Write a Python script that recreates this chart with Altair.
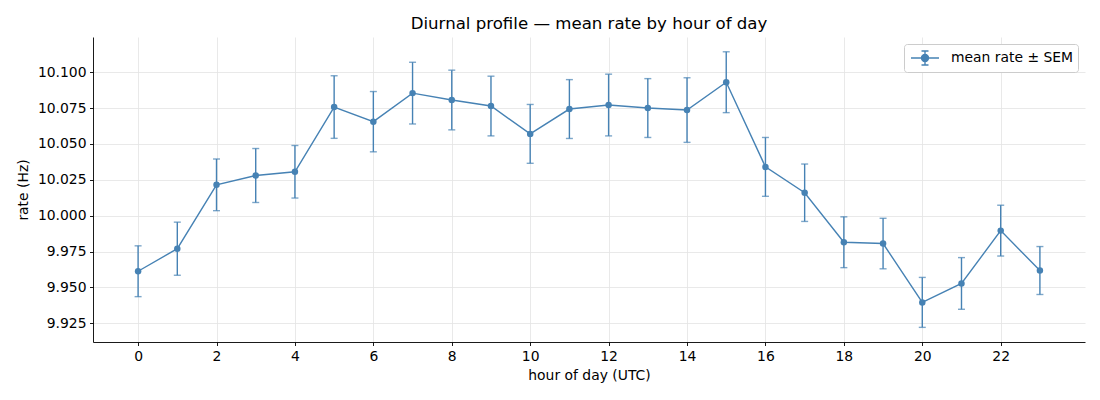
import altair as alt
import pandas as pd

hours = list(range(24))
mean_rate = [9.9613, 9.9770, 10.0215, 10.0280, 10.0306, 10.0757, 10.0655, 10.0854,
             10.0806, 10.0764, 10.0570, 10.0743, 10.0771, 10.0750, 10.0736, 10.0930,
             10.0340, 10.0160, 9.9815, 9.9806, 9.9396, 9.9528, 9.9896, 9.9618]
sem = [0.0177, 0.0185, 0.0180, 0.0188, 0.0183, 0.0218, 0.0210, 0.0215,
       0.0208, 0.0208, 0.0205, 0.0205, 0.0215, 0.0205, 0.0225, 0.0212,
       0.0205, 0.0200, 0.0177, 0.0176, 0.0174, 0.0180, 0.0177, 0.0167]
series_name = "mean rate ± SEM"
x_ticks = list(range(0, 23, 2))
y_ticks = [9.925, 9.950, 9.975, 10.000, 10.025, 10.050, 10.075, 10.100]

df = pd.DataFrame({"hour": hours, "mean": mean_rate, "sem": sem})
df["series"] = series_name

COLOR = "#4682b4"
FONT = "DejaVu Sans"
FS = 13.9

x_enc = alt.X("hour:Q", scale=alt.Scale(domain=[-1.15, 24.15], nice=False, zero=False),
              axis=alt.Axis(values=x_ticks, title="hour of day (UTC)", format="d"))
y_scale = alt.Scale(domain=[9.912, 10.1245], nice=False, zero=False)
y_axis = alt.Axis(values=y_ticks, format=".3f", title="rate (Hz)")

base = alt.Chart(df).transform_calculate(
    lo="datum.mean - datum.sem", hi="datum.mean + datum.sem"
)

bars = base.mark_rule(color=COLOR, strokeWidth=1.4).encode(
    x=x_enc,
    y=alt.Y("lo:Q", scale=y_scale, axis=y_axis),
    y2="hi:Q",
)
cap_lo = base.mark_tick(color=COLOR, orient="horizontal", size=7, thickness=1.4).encode(
    x="hour:Q", y="lo:Q"
)
cap_hi = base.mark_tick(color=COLOR, orient="horizontal", size=7, thickness=1.4).encode(
    x="hour:Q", y="hi:Q"
)
line = base.mark_line(color=COLOR, strokeWidth=1.4).encode(
    x="hour:Q", y="mean:Q"
)

# legend handle: line + errorbar + marker, drawn in units of half the symbol box (9px)
legend_path = ("M-1.556,0H1.556M0,-0.778V0.778M-0.389,-0.778H0.389M-0.389,0.778H0.389"
               "M0.389,0A0.389,0.389,0,1,1,-0.389,0A0.389,0.389,0,1,1,0.389,0Z")

points = base.mark_circle(size=42, opacity=1).encode(
    x="hour:Q",
    y="mean:Q",
    color=alt.Color("series:N", scale=alt.Scale(range=[COLOR]),
                    legend=alt.Legend(title=None, orient="top-right", offset=7,
                                      symbolType=legend_path, symbolSize=324,
                                      symbolOffset=7,
                                      symbolStrokeWidth=1.4, symbolFillColor=COLOR,
                                      symbolStrokeColor=COLOR, labelFontSize=FS,
                                      labelFont=FONT, labelColor="black",
                                      labelOffset=16, padding=4,
                                      strokeColor="#cccccc", fillColor="white",
                                      cornerRadius=3)),
)

chart = alt.layer(bars, cap_lo, cap_hi, line, points).properties(
    width=992,
    height=305,
    title=alt.TitleParams("Diurnal profile — mean rate by hour of day",
                          fontSize=16.6, font=FONT, fontWeight="normal",
                          color="black", offset=4),
    autosize=alt.AutoSizeParams(type="none"),
    padding={"left": 85, "top": 29, "right": 7, "bottom": 50},
).configure_view(stroke=None).configure_axis(
    domainColor="black", domainWidth=0.9, tickColor="black", tickSize=3.5,
    tickWidth=0.9, labelFontSize=FS, labelFont=FONT, labelColor="black",
    titleFontSize=FS, titleFont=FONT, titleColor="black", titleFontWeight="normal",
    gridColor="#e3e3e3", gridWidth=0.8, labelPadding=3.5,
).configure_axisX(titlePadding=6).configure_axisY(titlePadding=7)

chart.save("out.html", embed_options={"renderer": "svg", "actions": False})
